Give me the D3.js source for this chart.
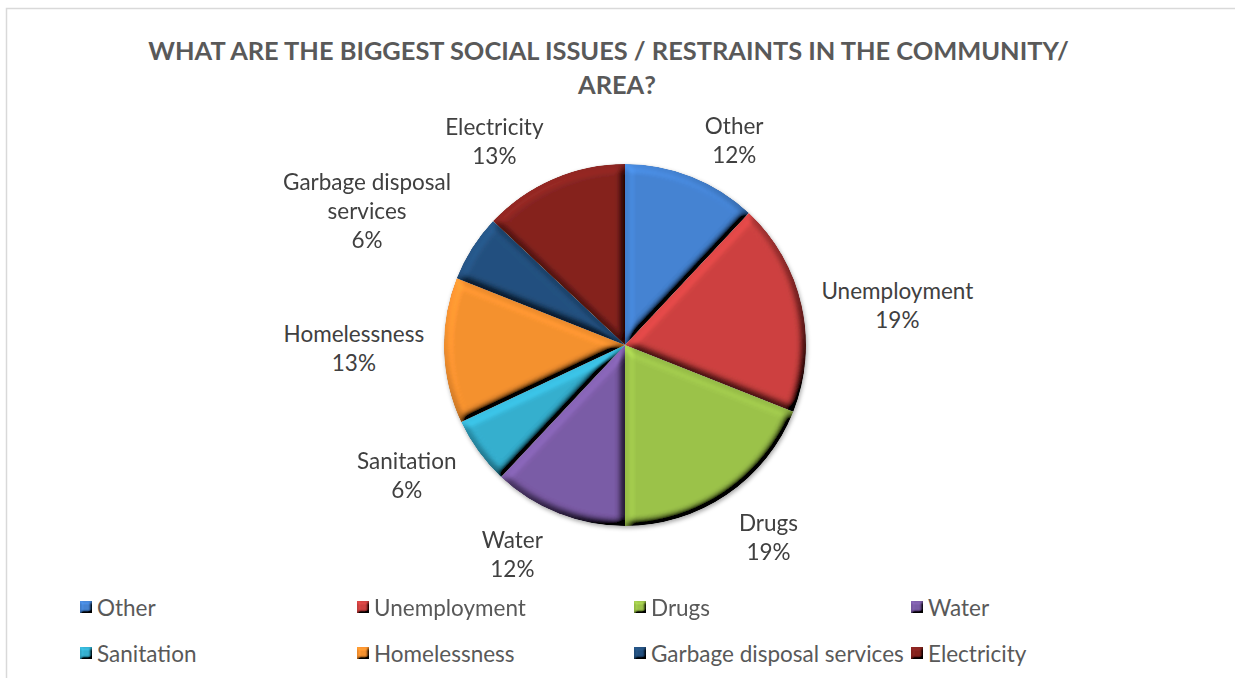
<!DOCTYPE html>
<html>
<head>
<meta charset="utf-8">
<script src="https://cdn.jsdelivr.net/npm/d3@7"></script>
<style>
  html, body { margin: 0; padding: 0; background: #ffffff; }
  svg { display: block; }
</style>
</head>
<body>
<svg id="chart" width="1235" height="678"></svg>
<script>
// Survey responses: share of mentions per issue (percent)
const categories = ["Other", "Unemployment", "Drugs", "Water", "Sanitation",
                    "Homelessness", "Garbage disposal services", "Electricity"];
const percentages = [12, 19, 19, 12, 6, 13, 6, 13];
const sliceColors = ["#4483d3", "#cd4140", "#9cc34a", "#7b5ba6", "#34afcf",
                     "#f5912f", "#23507f", "#86231f"];
const titleLines = ["WHAT ARE THE BIGGEST SOCIAL ISSUES / RESTRAINTS IN THE COMMUNITY/", "AREA?"];

// Layout
const W = 1235, H = 678;
const cx = 625, cy = 345, radius = 181;
const labelGap = 18, labelLineH = 29, labelWrap = 185, labelSize = 22.5;
// hand-tuned label nudges (px) applied after the automatic outside placement
const labelNudge = [[25, 7], [4, 10], [15, 3], [-28, -3], [-17, -4], [-2, -4], [-19, -5], [-32, 5]];
const FONT = "Lato, 'Open Sans', 'DejaVu Sans', sans-serif";

const svg = d3.select("#chart");
const defs = svg.append("defs");

// Bevel lighting for pie slices
function bevelFilter(id, blur, scale, k) {
  const f = defs.append("filter").attr("id", id)
    .attr("x", "-5%").attr("y", "-5%").attr("width", "110%").attr("height", "110%");
  f.append("feGaussianBlur").attr("in", "SourceAlpha").attr("stdDeviation", blur).attr("result", "b");
  const l = f.append("feDiffuseLighting").attr("in", "b").attr("surfaceScale", scale)
    .attr("diffuseConstant", 1).attr("lighting-color", "#ffffff").attr("result", "light");
  l.append("feDistantLight").attr("azimuth", 235).attr("elevation", 50);
  f.append("feComposite").attr("in", "SourceGraphic").attr("in2", "light")
    .attr("operator", "arithmetic").attr("k1", k).attr("k2", 0).attr("k3", 0).attr("k4", 0)
    .attr("result", "lit");
  f.append("feComposite").attr("in", "lit").attr("in2", "SourceAlpha").attr("operator", "in");
}
bevelFilter("bevel", 4, 9, 1.3);
bevelFilter("bevelSmall", 1.5, 4, 1.3);

const shadow = defs.append("filter").attr("id", "shadow")
  .attr("x", "-10%").attr("y", "-10%").attr("width", "120%").attr("height", "120%");
shadow.append("feDropShadow").attr("dx", 1).attr("dy", 2).attr("stdDeviation", 2)
  .attr("flood-color", "#000").attr("flood-opacity", 0.35);

// Chart area border
svg.append("rect")
  .attr("x", 6.5).attr("y", 8.5).attr("width", W + 20).attr("height", H + 20)
  .attr("fill", "#ffffff").attr("stroke", "#d9d9d9").attr("stroke-width", 1.5);

// Title
const title = svg.append("g");
const titleY = [50, 84];
const titleX = [608.5, 617];
const t1 = title.append("text").text(titleLines[0])
  .attr("font-family", FONT).attr("font-weight", 700).attr("font-size", 25);
const natural = t1.node().getComputedTextLength();
const sx = 921 / natural;
t1.remove();
titleLines.forEach((line, i) => {
  title.append("text").text(line)
    .attr("transform", `translate(${titleX[i]},${titleY[i]}) scale(${sx},1)`)
    .attr("font-family", FONT).attr("font-weight", 700).attr("font-size", 25)
    .attr("fill", "#595959").attr("text-anchor", "middle").attr("dominant-baseline", "central");
});

// Pie
const pie = d3.pie().sort(null).value(d => d.value);
const arcs = pie(categories.map((c, i) => ({ name: c, value: percentages[i], color: sliceColors[i] })));
const arc = d3.arc().innerRadius(0).outerRadius(radius);

const pieG = svg.append("g").attr("transform", `translate(${cx},${cy})`);
const shadowG = pieG.append("g").attr("filter", "url(#shadow)");
shadowG.selectAll("path.slice").data(arcs).join("path")
  .attr("class", "slice")
  .attr("d", arc)
  .attr("fill", d => d.data.color)
  .attr("filter", "url(#bevel)");

// Data labels, placed outside each slice along its mid-angle
const labelG = svg.append("g");
arcs.forEach((d, i) => {
  const g = labelG.append("g");
  const txt = g.append("text")
    .attr("font-family", FONT).attr("font-size", labelSize).attr("fill", "#404040")
    .attr("text-anchor", "middle");
  // wrap category name
  const words = d.data.name.split(" ");
  const lines = [];
  let cur = "";
  const probe = g.append("text").attr("font-family", FONT).attr("font-size", labelSize);
  words.forEach(w => {
    const trial = cur ? cur + " " + w : w;
    probe.text(trial);
    if (cur && probe.node().getComputedTextLength() > labelWrap) { lines.push(cur); cur = w; }
    else cur = trial;
  });
  lines.push(cur);
  probe.remove();
  lines.push(d3.format(".0f")(d.data.value) + "%");
  const n = lines.length;
  lines.forEach((ln, k) => {
    txt.append("tspan").attr("x", 0).attr("y", (k - (n - 1) / 2) * labelLineH)
      .attr("dominant-baseline", "central").text(ln);
  });
  const bb = txt.node().getBBox();
  const w = bb.width, h = n * labelLineH;
  const a = (d.startAngle + d.endAngle) / 2;
  const s = Math.sin(a), c = Math.cos(a);
  const x = cx + s * (radius + labelGap) + s * w / 2 + labelNudge[i][0];
  const y = cy - c * (radius + labelGap) - c * h / 2 + labelNudge[i][1];
  g.attr("transform", `translate(${x},${y})`);
});

// Legend: 4 columns x 2 rows
const legendX = d3.scaleLinear().domain([0, 4]).range([80, 80 + 4 * 277]);
const legendRowY = [607, 653];
const legend = svg.append("g");
arcs.forEach((d, i) => {
  const col = i % 4, row = Math.floor(i / 4);
  const g = legend.append("g").attr("transform", `translate(${legendX(col)},${legendRowY[row]})`);
  g.append("rect").attr("x", 0).attr("y", -6).attr("width", 12).attr("height", 12)
    .attr("fill", d.data.color).attr("filter", "url(#bevelSmall)");
  g.append("text").attr("x", 17).attr("y", 0).attr("dominant-baseline", "central")
    .attr("font-family", FONT).attr("font-size", labelSize).attr("fill", "#595959")
    .text(d.data.name);
});
</script>
</body>
</html>
